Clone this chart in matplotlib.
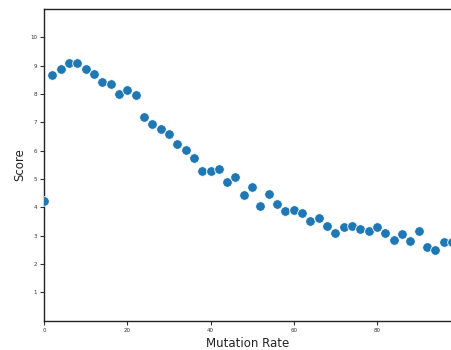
import numpy as np
import matplotlib
matplotlib.use("Agg")
import matplotlib.pyplot as plt

# Data
mutation_rate = list(range(0, 100, 2))
score = [4.23, 8.66, 8.90, 9.11, 9.11, 8.90, 8.70, 8.43, 8.37, 8.02,
         8.13, 7.95, 7.18, 6.93, 6.77, 6.58, 6.25, 6.02, 5.76, 5.27,
         5.29, 5.36, 4.89, 5.08, 4.42, 4.71, 4.05, 4.47, 4.11, 3.88,
         3.90, 3.79, 3.51, 3.63, 3.36, 3.08, 3.30, 3.34, 3.22, 3.16,
         3.30, 3.08, 2.86, 3.05, 2.81, 3.16, 2.60, 2.48, 2.77, 2.77]
x_ticks = [0, 20, 40, 60, 80]
y_ticks = [1, 2, 3, 4, 5, 6, 7, 8, 9, 10]

fig = plt.figure(figsize=(4.52, 3.5), dpi=100)
ax = fig.add_axes([0.0973, 0.0837, 0.9027, 0.8903])

ax.scatter(mutation_rate, score, s=48, color="#1f77b4",
           edgecolors="white", linewidths=0.6, zorder=3)

ax.set_xlim(0, 98)
ax.set_ylim(0, 11)
ax.set_xticks(x_ticks)
ax.set_yticks(y_ticks)
ax.tick_params(labelsize=4, length=3, width=0.8, pad=2, colors="#333333")
for s in ax.spines.values():
    s.set_linewidth(1.0)
    s.set_color("#222222")
ax.spines["right"].set_visible(False)

ax.set_xlabel("Mutation Rate", fontsize=8.5, color="#222222", labelpad=3)
ax.set_ylabel("Score", fontsize=8.5, color="#222222", labelpad=3)

fig.savefig("out.png", dpi=100)
